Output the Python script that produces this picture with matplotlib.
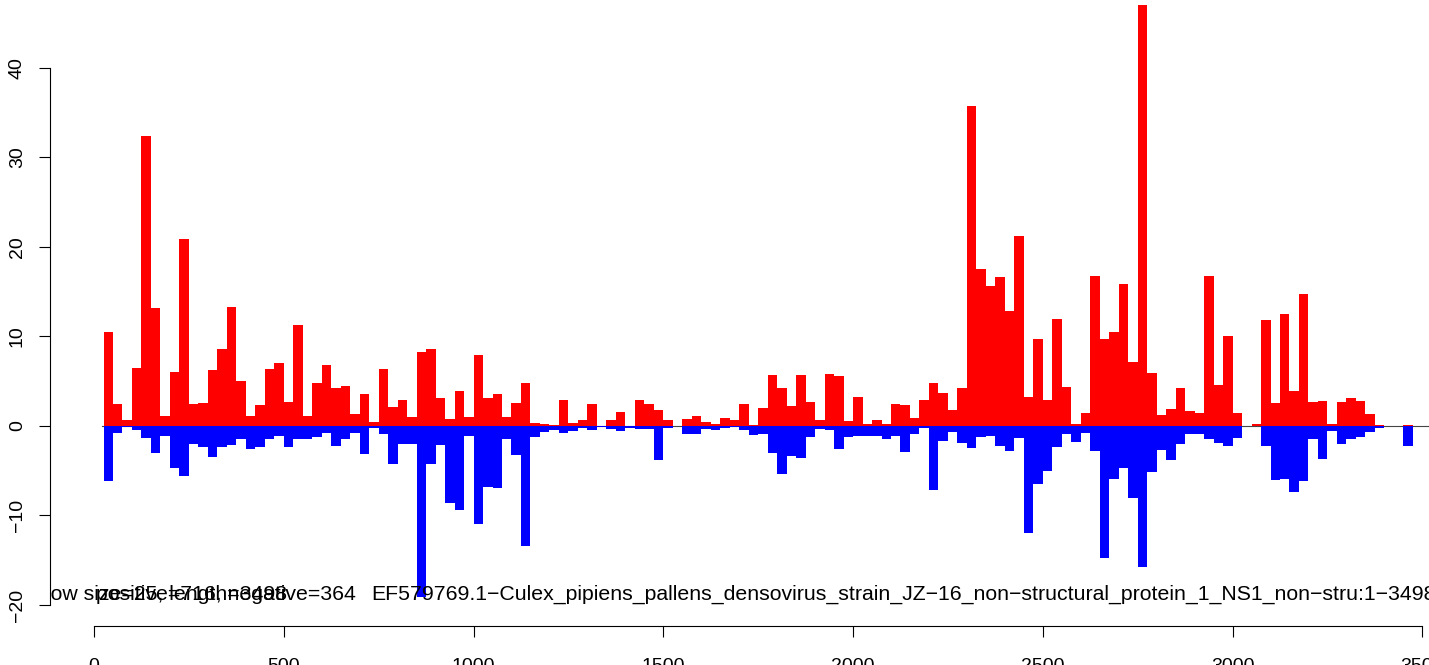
import numpy as np
import matplotlib
matplotlib.use("Agg")
import matplotlib.pyplot as plt

plt.rcParams["font.family"] = ["Liberation Sans", "DejaVu Sans"]

window = 25
bin_start = np.arange(1, 139) * window  # left edge of each window

positive = [
    10.5, 2.45, 0.67, 6.47, 32.45, 13.16, 1.1, 6.0, 20.85, 2.45,
    2.56, 6.25, 8.6, 13.3, 5.0, 1.1, 2.35, 6.35, 7.0, 2.7,
    11.3, 1.1, 4.8, 6.8, 4.24, 4.46, 1.34, 3.57, 0.45, 6.36,
    2.1, 2.9, 1.0, 8.25, 8.6, 3.1, 0.78, 3.9, 1.0, 7.9,
    3.1, 3.57, 1.0, 2.56, 4.8, 0.33, 0.22, 0.1, 2.9, 0.33,
    0.67, 2.45, 0.0, 0.67, 1.56, 0.0, 2.9, 2.45, 1.78, 0.67,
    0.0, 0.78, 1.1, 0.45, 0.22, 0.9, 0.67, 2.45, 0.1, 2.0,
    5.7, 4.2, 2.2, 5.7, 2.68, 0.67, 5.8, 5.58, 0.56, 3.23,
    0.22, 0.67, 0.22, 2.45, 2.34, 0.9, 2.9, 4.8, 3.68, 1.78,
    4.24, 35.7, 17.5, 15.6, 16.7, 12.8, 21.2, 3.2, 9.75, 2.85,
    12.0, 4.4, 0.17, 1.5, 16.8, 9.7, 10.5, 15.9, 7.2, 47.0,
    5.9, 1.28, 1.94, 4.2, 1.65, 1.45, 16.8, 4.57, 10.0, 1.45,
    0.0, 0.22, 11.8, 2.56, 12.5, 3.9, 14.8, 2.68, 2.8, 0.22,
    2.68, 3.12, 2.8, 1.34, 0.1, 0.0, 0.0, 0.1,
]

negative = [
    -6.1, -0.74, -0.1, -0.45, -1.4, -3.0, -1.1, -4.7, -5.6, -2.0,
    -2.4, -3.5, -2.4, -2.1, -1.5, -2.6, -2.4, -1.5, -1.1, -2.4,
    -1.5, -1.5, -1.2, -0.74, -2.2, -1.5, -0.74, -3.1, -0.2, -0.86,
    -4.2, -2.0, -2.0, -19.1, -4.2, -2.1, -8.66, -9.44, -1.08, -10.9,
    -6.77, -6.88, -1.5, -3.2, -13.4, -1.2, -0.63, -0.4, -0.74, -0.52,
    -0.19, -0.4, -0.1, -0.3, -0.52, -0.19, -0.3, -0.3, -3.75, -0.19,
    0.0, -0.86, -0.86, -0.3, -0.4, -0.19, -0.07, -0.4, -0.97, -0.88,
    -3.0, -5.35, -3.35, -3.57, -1.23, -0.33, -0.45, -2.56, -1.23, -1.1,
    -1.1, -1.1, -1.45, -1.1, -2.9, -0.9, -0.22, -7.14, -1.67, -0.67,
    -1.9, -2.5, -1.28, -1.16, -2.27, -2.77, -1.4, -12.0, -6.5, -5.0,
    -2.4, -0.9, -1.74, -0.83, -2.85, -14.8, -5.87, -4.75, -8.1, -15.8,
    -5.1, -2.64, -3.76, -2.0, -0.88, -0.86, -1.5, -1.86, -2.2, -1.4,
    0.0, 0.0, -2.2, -6.0, -5.9, -7.4, -6.2, -1.5, -3.64, -0.52,
    -1.97, -1.5, -1.2, -0.63, -0.2, 0.0, 0.0, -2.2,
]

x_ticks = [0, 500, 1000, 1500, 2000, 2500, 3000, 3500]
y_ticks = [-20, -10, 0, 10, 20, 30, 40]

info_1 = "window size=25, length=3498"
info_2 = "positive=716, negative=364"
info_3 = ("EF579769.1\u2212Culex_pipiens_pallens_densovirus_strain_JZ\u221216_"
          "non\u2212structural_protein_1_NS1_non\u2212stru:1\u22123498")

fig = plt.figure(figsize=(14.29, 6.65), dpi=100)
ax = fig.add_axes([0.03464, 0.05865, 1.00105, 0.97143])

ax.plot([20, 3700], [0, 0], color="#444444", lw=0.8, zorder=1)
ax.bar(bin_start, positive, width=window, align="edge", color="#ff0000",
       linewidth=0, zorder=2)
ax.bar(bin_start, negative, width=window, align="edge", color="#0000ff",
       linewidth=0, zorder=2)

ax.set_xlim(-117.3, 3652)
ax.set_ylim(-22.35, 49.83)

for s in ["top", "right"]:
    ax.spines[s].set_visible(False)
ax.spines["left"].set_bounds(-20, 40)
ax.spines["bottom"].set_bounds(0, 3500)
ax.spines["left"].set_linewidth(0.8)
ax.spines["bottom"].set_linewidth(0.8)

ax.set_xticks(x_ticks)
ax.set_yticks(y_ticks)
ax.set_xticklabels([str(v) for v in x_ticks])
ax.set_yticklabels([str(v).replace("-", "\u2212") for v in y_ticks])
ax.tick_params(axis="x", direction="out", length=8, width=0.8, pad=15, labelsize=14)
ax.tick_params(axis="y", direction="out", length=8, width=0.8, pad=9, labelsize=14,
               labelrotation=90)
for lab in ax.get_yticklabels():
    lab.set_va("center")

ax.patch.set_visible(False)

kw = dict(fontsize=15.3, va="baseline", ha="left", clip_on=True, color="black")
ax.text(-228, -19.45, info_1, **kw)
ax.text(5, -19.45, info_2, **kw)
ax.text(730, -19.45, info_3, **kw)

fig.savefig("out.png", dpi=100)
